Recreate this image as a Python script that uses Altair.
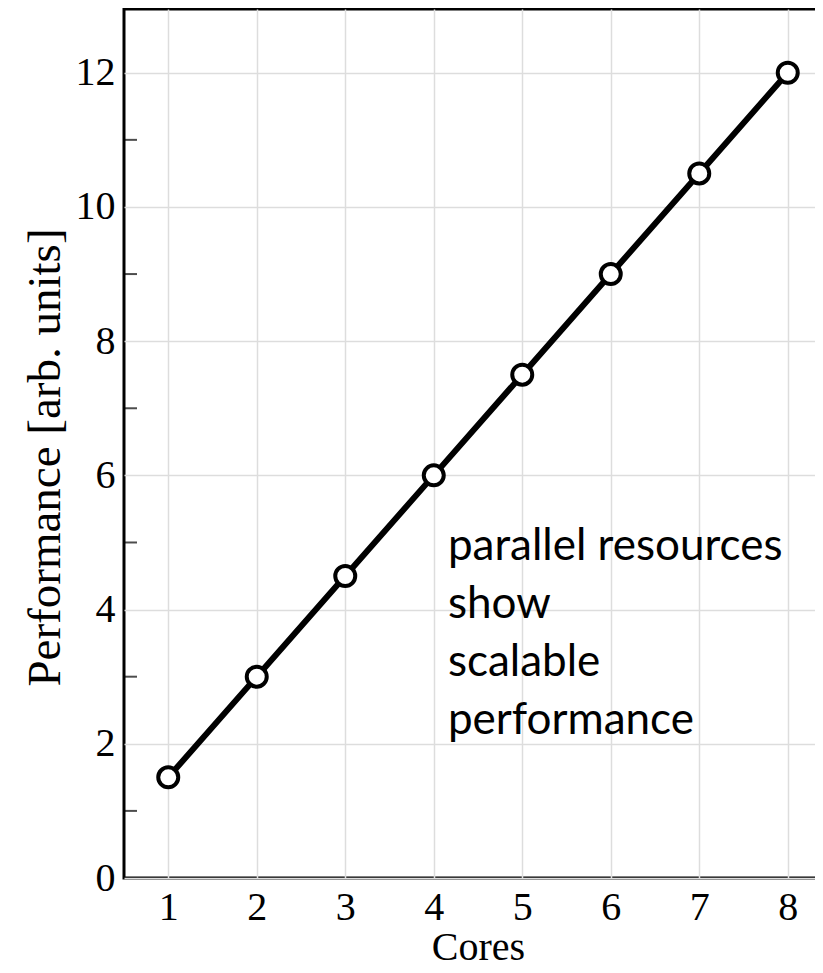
import altair as alt
import pandas as pd

cores = [1, 2, 3, 4, 5, 6, 7, 8]
performance = [1.5, 3.0, 4.5, 6.0, 7.5, 9.0, 10.5, 12.0]
y_major = [0, 2, 4, 6, 8, 10, 12]
y_minor = [1, 3, 5, 7, 9, 11]
x_range = [0.5, 8.5]
y_range = [0, 12.95]
note_lines = ["parallel resources", "show", "scalable", "performance"]
note_x = [4.16]
note_y = [4.74]

df = pd.DataFrame({"Cores": cores, "Perf": performance})
ticks_df = pd.DataFrame(
    [{"x": xv, "y": yv} for xv in x_range for yv in y_minor]
)
note_df = pd.DataFrame({"x": note_x, "y": note_y, "t": ["\n".join(note_lines)]})

xs = alt.Scale(domain=x_range, nice=False, zero=False)
ys = alt.Scale(domain=y_range, nice=False, zero=False)

x_axis = alt.Axis(values=cores, title="Cores", grid=True, ticks=False, domain=False,
                  labelPadding=9, titlePadding=0, titleFontSize=40, format="d")
y_axis = alt.Axis(values=y_major, title="Performance [arb. units]", grid=True, ticks=False,
                  domain=False, labelPadding=9, titlePadding=6, titleY=448,
                  titleFontSize=47, format="d")

line = alt.Chart(df).mark_line(color="black", strokeWidth=6).encode(
    x=alt.X("Cores:Q", scale=xs, axis=x_axis),
    y=alt.Y("Perf:Q", scale=ys, axis=y_axis),
)
points = alt.Chart(df).mark_point(
    shape="circle", filled=True, fill="white", stroke="black", strokeWidth=4,
    size=400, opacity=1
).encode(
    x=alt.X("Cores:Q", scale=xs),
    y=alt.Y("Perf:Q", scale=ys),
)
minor = alt.Chart(ticks_df).mark_tick(
    orient="horizontal", size=26, thickness=2, color="black", clip=True
).encode(
    x=alt.X("x:Q", scale=xs),
    y=alt.Y("y:Q", scale=ys),
)
note = alt.Chart(note_df).mark_text(
    align="left", baseline="alphabetic", font="Lato", fontSize=44,
    lineBreak="\n", lineHeight=58, color="black"
).encode(
    x=alt.X("x:Q", scale=xs),
    y=alt.Y("y:Q", scale=ys),
    text="t:N",
)

chart = alt.layer(minor, note, line, points).properties(
    width=708, height=869,
    autosize=alt.AutoSizeParams(type="none"),
    padding={"left": 116, "top": 1, "right": -17, "bottom": 87},
).configure_view(
    stroke="black", strokeWidth=3
).configure_axis(
    labelFont="Liberation Serif", labelFontSize=40, labelColor="black",
    titleFont="Liberation Serif", titleFontWeight="normal",
    titleColor="black", gridColor="#dddddd", gridWidth=1.5,
)

chart.save("out.html", embed_options={"renderer": "svg", "actions": False})
